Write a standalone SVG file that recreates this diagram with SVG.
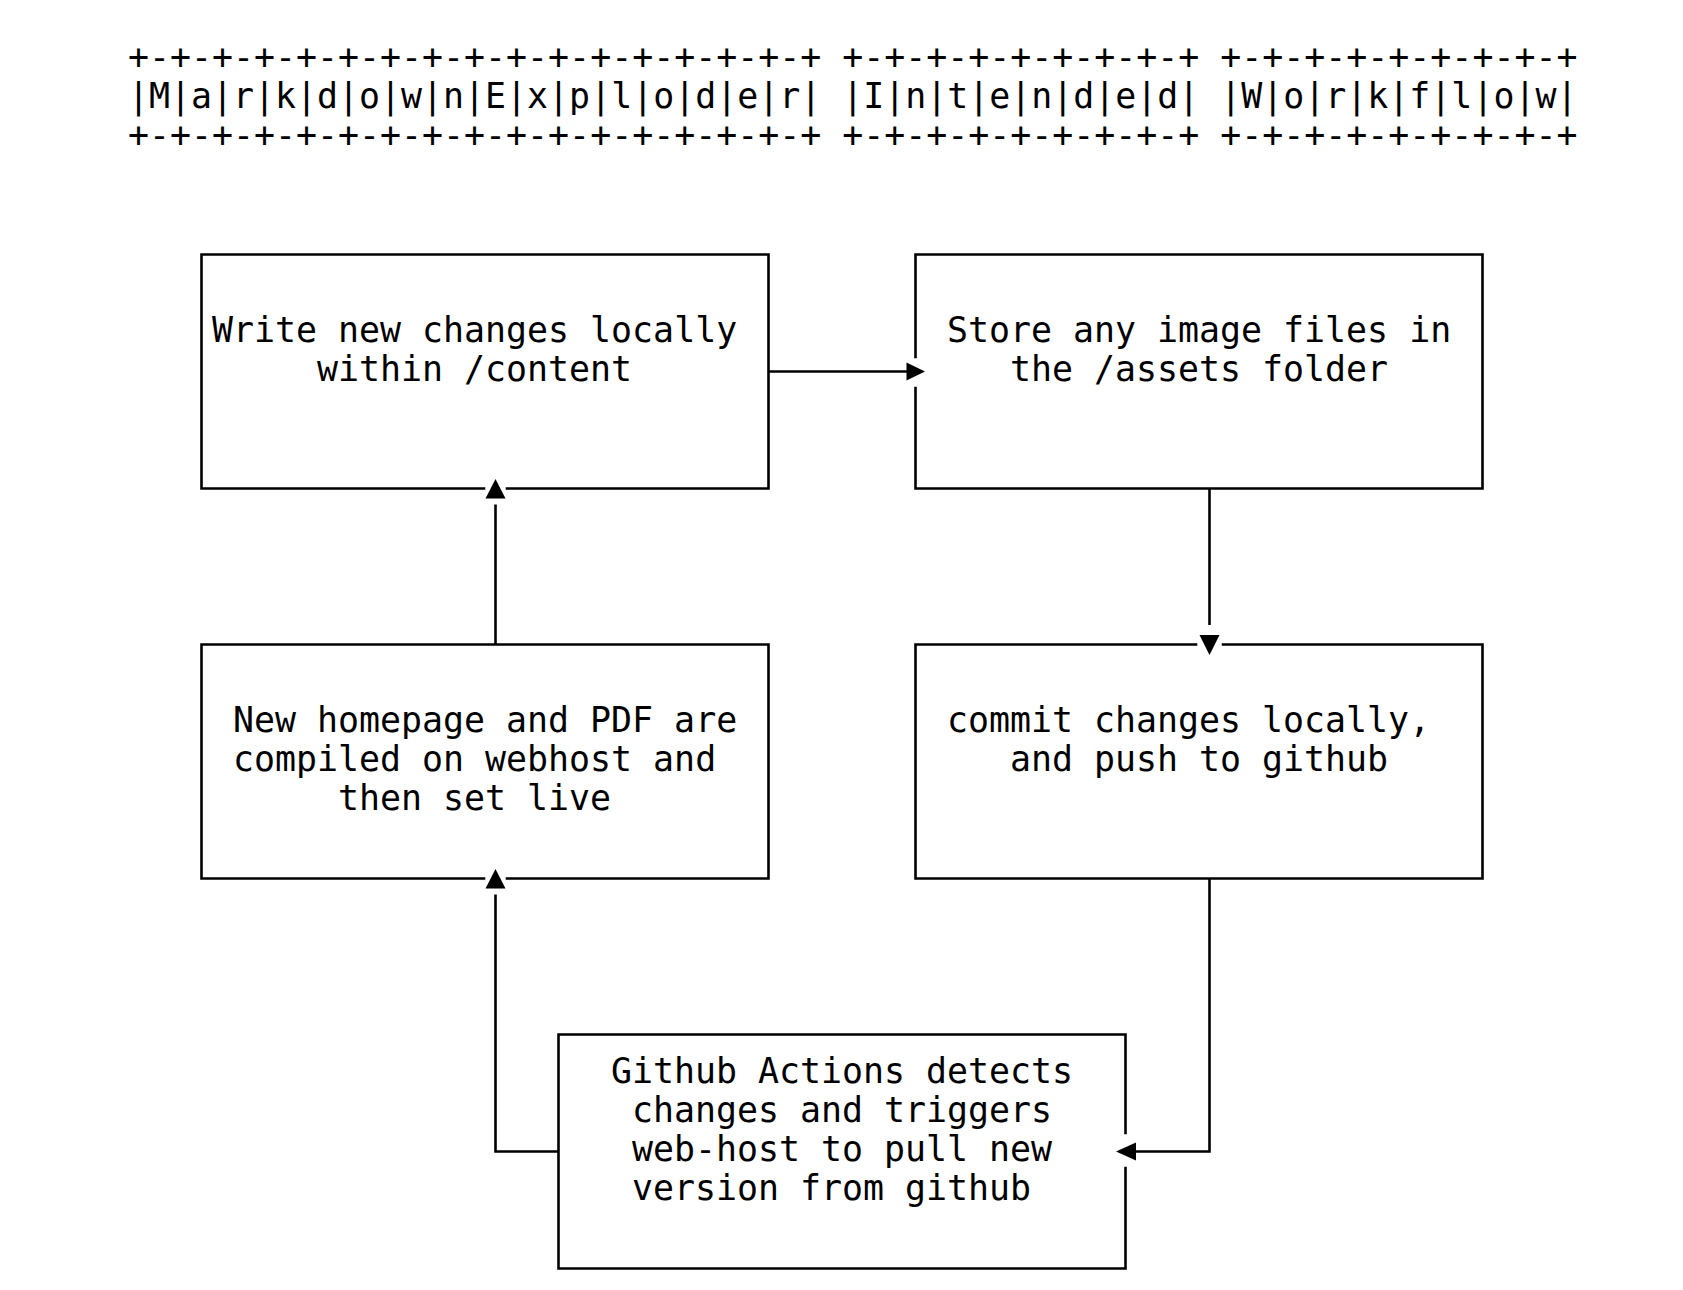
<svg xmlns="http://www.w3.org/2000/svg" width="1683" height="1290" viewBox="0 0 1683 1290">
<style>
.t{font-family:"DejaVu Sans Mono","Liberation Mono",monospace;font-size:34.9px;fill:#000;white-space:pre}
.b{fill:none;stroke:#000;stroke-width:2.6;stroke-linecap:square;stroke-linejoin:miter}
.c{fill:none;stroke:#000;stroke-width:2.6}
.a{fill:#000;stroke:none}
</style>
<rect width="1683" height="1290" fill="#fff"/>
<g id="title">
<text class="t" x="128" y="68.7" xml:space="preserve">+-+-+-+-+-+-+-+-+-+-+-+-+-+-+-+-+ +-+-+-+-+-+-+-+-+ +-+-+-+-+-+-+-+-+</text>
<text class="t" x="128" y="107.7" xml:space="preserve">|M|a|r|k|d|o|w|n|E|x|p|l|o|d|e|r| |I|n|t|e|n|d|e|d| |W|o|r|k|f|l|o|w|</text>
<text class="t" x="128" y="146.7" xml:space="preserve">+-+-+-+-+-+-+-+-+-+-+-+-+-+-+-+-+ +-+-+-+-+-+-+-+-+ +-+-+-+-+-+-+-+-+</text>
</g>
<g id="node-write">
<path class="b" d="M201.5,254.5 H768.5 V488.5 H507 M484,488.5 H201.5 V254.5"/>
<text class="t" x="212" y="341.7">Write new changes locally</text>
<text class="t" x="317" y="380.7">within /content</text>
</g>
<g id="node-store">
<path class="b" d="M915.5,357 V254.5 H1482.5 V488.5 H915.5 V388"/>
<text class="t" x="947" y="341.7">Store any image files in</text>
<text class="t" x="1010" y="380.7">the /assets folder</text>
</g>
<g id="node-compile">
<path class="b" d="M201.5,644.5 H768.5 V878.5 H507 M484,878.5 H201.5 V644.5"/>
<text class="t" x="233" y="731.7">New homepage and PDF are</text>
<text class="t" x="233" y="770.7">compiled on webhost and</text>
<text class="t" x="338" y="809.7">then set live</text>
</g>
<g id="node-commit">
<path class="b" d="M915.5,644.5 H1196 M1223,644.5 H1482.5 V878.5 H915.5 V644.5"/>
<text class="t" x="947" y="731.7">commit changes locally,</text>
<text class="t" x="1010" y="770.7">and push to github</text>
</g>
<g id="node-actions">
<path class="b" d="M1125.5,1133 V1034.5 H558.5 V1268.5 H1125.5 V1168"/>
<text class="t" x="611" y="1082.7">Github Actions detects</text>
<text class="t" x="632" y="1121.7">changes and triggers</text>
<text class="t" x="632" y="1160.7">web-host to pull new</text>
<text class="t" x="632" y="1199.7">version from github</text>
</g>
<g id="connectors">
<path class="c" d="M768.5,371.5 H907"/>
<polygon class="a" points="906.5,362.5 925,371.5 906.5,380.5"/>
<path class="c" d="M1209.5,488.5 V625"/>
<polygon class="a" points="1199.5,635 1219.5,635 1209.5,655"/>
<path class="c" d="M1209.5,878.5 V1151.5 H1136"/>
<polygon class="a" points="1136,1142.5 1116,1151.5 1136,1160.5"/>
<path class="c" d="M558.5,1151.5 H495.5 V894.5"/>
<polygon class="a" points="485.5,888.5 505.5,888.5 495.5,869"/>
<path class="c" d="M495.5,644.5 V504.5"/>
<polygon class="a" points="485.5,498.5 505.5,498.5 495.5,479"/>
</g>
</svg>
